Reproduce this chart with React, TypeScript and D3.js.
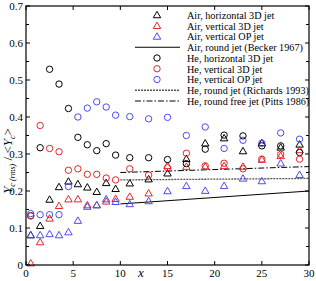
import React from "react";
import * as d3 from "d3";

const xs = [0.5, 1.5, 2.5, 3.5, 4.5, 5.5, 6.5, 7.5, 8.5, 9.5, 11, 13, 15, 17, 19, 21, 23, 25, 27, 29];

const airHoriz3D = [0.081, 0.106, 0.177, 0.211, 0.226, 0.219, 0.21, 0.198, 0.222, 0.206, 0.221, 0.232, 0.248, 0.287, 0.329, 0.343, 0.308, 0.33, 0.318, 0.326];
const airVert3D = [0.005, 0.062, 0.126, 0.16, 0.178, 0.178, 0.162, 0.162, 0.172, 0.179, 0.185, 0.194, 0.268, 0.266, 0.266, 0.268, 0.266, 0.285, 0.295, 0.311];
const airVertOP = [0.081, 0.081, 0.084, 0.081, 0.089, 0.12, 0.158, 0.162, 0.178, 0.171, 0.165, 0.173, 0.2, 0.214, 0.201, 0.214, 0.234, 0.227, 0.275, 0.244];
const heHoriz3D = [0.133, 0.317, 0.529, 0.489, 0.423, 0.345, 0.325, 0.309, 0.328, 0.297, 0.29, 0.29, 0.285, 0.274, 0.313, 0.351, 0.349, 0.322, 0.322, 0.304];
const heVert3D = [0.133, 0.377, 0.315, 0.306, 0.256, 0.26, 0.245, 0.245, 0.235, 0.23, 0.26, 0.243, 0.263, 0.302, 0.268, 0.275, 0.26, 0.286, 0.299, 0.286];
const heVertOP = [0.139, 0.136, 0.136, 0.136, 0.212, 0.4, 0.424, 0.441, 0.427, 0.405, 0.401, 0.395, 0.399, 0.35, 0.373, 0.315, 0.337, 0.329, 0.357, 0.34];

const refX = [10, 30];
const becker = [0.165, 0.2];
const richards = [0.23, 0.234];
const pitts = [0.25, 0.266];

const xTicks = [0, 5, 10, 15, 20, 25, 30];
const yTicks = [0, 0.1, 0.2, 0.3, 0.4, 0.5, 0.6, 0.7];
const yMinor = [0.05, 0.15, 0.25, 0.35, 0.45, 0.55, 0.65];

const RED = "#e3262b";
const BLUE = "#4a4cf5";

const markerSeries = [
  { name: "Air, horizontal 3D jet", ys: airHoriz3D, shape: "tri", color: "#000" },
  { name: "Air, vertical 3D jet", ys: airVert3D, shape: "tri", color: RED },
  { name: "Air, vertical OP jet", ys: airVertOP, shape: "tri", color: BLUE },
  { name: "He, horizontal 3D jet", ys: heHoriz3D, shape: "circ", color: "#000" },
  { name: "He, vertical 3D jet", ys: heVert3D, shape: "circ", color: RED },
  { name: "He, vertical OP jet", ys: heVertOP, shape: "circ", color: BLUE },
];

const lineSeries = [
  { name: "Air, round jet (Becker 1967)", ys: becker, dash: "none", color: "#000", w: 1 },
  { name: "He, round jet (Richards 1993)", ys: richards, dash: "2,1", color: "#555", w: 1.3 },
  { name: "He, round free jet (Pitts 1986)", ys: pitts, dash: "6,2,1.5,2", color: "#000", w: 1 },
];

// legend order as in the figure
const legendRows = [
  { kind: "m", s: markerSeries[0] },
  { kind: "m", s: markerSeries[1] },
  { kind: "m", s: markerSeries[2] },
  { kind: "l", s: lineSeries[0] },
  { kind: "m", s: markerSeries[3] },
  { kind: "m", s: markerSeries[4] },
  { kind: "m", s: markerSeries[5] },
  { kind: "l", s: lineSeries[1] },
  { kind: "l", s: lineSeries[2] },
];

const W = 316;
const H = 281;
const L = 26, R = 309, T = 6, B = 265;
const FONT = "'Liberation Serif', 'Times New Roman', serif";

const tri = d3.symbol(d3.symbolTriangle, 24)() as string;

function Marker({ shape, color, x, y }: { shape: string; color: string; x: number; y: number }) {
  if (shape === "tri") {
    return <path d={tri} transform={`translate(${x},${y + 0.6})`} fill="none" stroke={color} strokeWidth={1} />;
  }
  return <circle cx={x} cy={y} r={3.2} fill="none" stroke={color} strokeWidth={1} />;
}

export default function App() {
  const x = d3.scaleLinear().domain([0, 30]).range([L, R]);
  const y = d3.scaleLinear().domain([0, 0.7]).range([B, T]);
  const line = d3.line<number>().x((_, i) => x(refX[i])).y((d) => y(d));

  return (
    <svg width={W} height={H} style={{ position: "absolute", left: 0, top: 0, background: "#fff" }} fontFamily={FONT}>
      {lineSeries.map((s) => (
        <path key={s.name} d={line(s.ys) as string} fill="none" stroke={s.color} strokeWidth={s.w} strokeDasharray={s.dash} />
      ))}
      {markerSeries.map((s) => (
        <g key={s.name}>
          {s.ys.map((v, i) => (
            <Marker key={i} shape={s.shape} color={s.color} x={x(xs[i])} y={y(v)} />
          ))}
        </g>
      ))}

      {/* frame and ticks */}
      <rect x={L} y={T} width={R - L} height={B - T} fill="none" stroke="#000" strokeWidth={1.2} />
      {xTicks.map((t) => (
        <g key={"x" + t}>
          <line x1={x(t)} x2={x(t)} y1={B} y2={B - 4} stroke="#000" />
          <line x1={x(t)} x2={x(t)} y1={T} y2={T + 4} stroke="#000" />
          <text x={x(t)} y={B + 12} fontSize={11} textAnchor="middle">{t}</text>
        </g>
      ))}
      {yTicks.map((t) => (
        <g key={"y" + t}>
          <line x1={L} x2={L + 4} y1={y(t)} y2={y(t)} stroke="#000" />
          <line x1={R} x2={R - 4} y1={y(t)} y2={y(t)} stroke="#000" />
          <text x={L - 3} y={y(t) + 4} fontSize={11} textAnchor="end">{t === 0 ? "0" : t.toFixed(1)}</text>
        </g>
      ))}
      {yMinor.map((t) => (
        <g key={"ym" + t}>
          <line x1={L} x2={L + 3} y1={y(t)} y2={y(t)} stroke="#000" />
          <line x1={R} x2={R - 3} y1={y(t)} y2={y(t)} stroke="#000" />
        </g>
      ))}

      <text x={138} y={277} fontSize={13} fontStyle="italic">x</text>
      <text transform="translate(12,161) rotate(-90)" fontSize={13} textAnchor="middle">
        <tspan fontStyle="italic">Y</tspan>
        <tspan fontStyle="italic" fontSize={8} dy={3}>c (rms)</tspan>
        <tspan dy={-3}> / &lt;</tspan>
        <tspan fontStyle="italic">Y</tspan>
        <tspan fontStyle="italic" fontSize={8} dy={3}>c</tspan>
        <tspan dy={-3}>&gt;</tspan>
      </text>

      {/* legend */}
      {legendRows.map((r, i) => {
        const cy = 15 + i * 10.75;
        return (
          <g key={"lg" + i}>
            {r.kind === "m" ? (
              <Marker shape={(r.s as any).shape} color={r.s.color} x={157} y={cy} />
            ) : (
              <line x1={135} x2={180} y1={cy} y2={cy} stroke={r.s.color} strokeWidth={(r.s as any).w} strokeDasharray={(r.s as any).dash} />
            )}
            <text x={187} y={cy + 3.8} fontSize={10.2}>{r.s.name}</text>
          </g>
        );
      })}
    </svg>
  );
}
